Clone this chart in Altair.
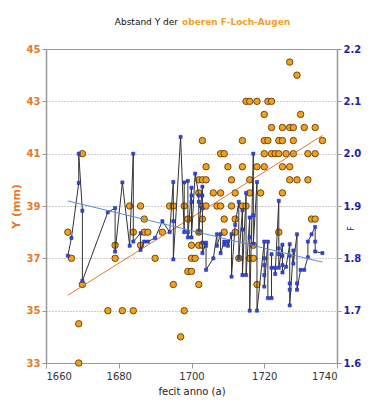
import altair as alt
import pandas as pd

# Orange series: Y (mm) of upper F-hole eyes
orange_years = [1666,1667,1669,1669,1670,1670,1677,1679,1679,1681,1683,1684,1684,1686,1686,1687,1687,1688,1690,1692,
                1694,1695,1695,1697,1698,1698,1699,1699,1700,1700,1700,1701,1702,1702,1702,1702,1702,1703,1703,1703,
                1703,1703,1704,1704,1704,1706,1707,1708,1708,1708,1709,1709,1709,1710,1711,1711,1712,1712,1712,1713,
                1714,1714,1714,1715,1715,1716,1716,1716,1716,1717,1717,1718,1718,1718,1719,1720,1720,1720,1720,1721,
                1721,1722,1722,1722,1723,1724,1724,1724,1725,1725,1725,1725,1726,1727,1727,1727,1727,1728,1728,1728,
                1729,1729,1730,1731,1732,1732,1733,1734,1734,1734,1736]
orange_y = [38,37,34.5,33,41,36,35,37.5,37,35,39,38,35,39,37.5,38.5,38,38,37,38,
            39,39,36,34,39,35,38.5,36.5,37.5,37,36.5,37,38,37.5,36,40,39.5,41.5,40,39,
            38.5,37.5,40.5,40,39,39.5,39,41,39.5,39,41,38.5,38,40.5,40,39,39.5,38.5,38,37,
            41.5,40.5,39,43,39,43,40,39.5,37,37.5,37,43,40.5,36,39.5,42.5,41.5,41,40.5,43,
            41.5,43,42,41,41,41.5,41,38,42,41.5,40.5,39.5,41,44.5,42,40.5,40,42,41.5,41,
            44,40,42.5,42,41,40,38.5,42,41,38.5,41.5]

# Blue series: F
blue_years = [1666,1667,1669,1669,1670,1670,1677,1679,1679,1681,1683,1684,1684,1686,1686,1687,1688,1690,1692,1694,
              1695,1695,1695,1697,1698,1698,1699,1699,1699,1700,1700,1700,1700,1701,1702,1702,1702,1703,1703,1703,
              1703,1703,1704,1704,1704,1706,1707,1707,1708,1708,1709,1709,1710,1710,1711,1711,1712,1713,1713,1714,
              1714,1714,1715,1715,1716,1716,1716,1717,1717,1717,1718,1718,1720,1720,1720,1720,1720,1721,1721,1722,
              1722,1722,1723,1723,1724,1724,1724,1724,1725,1725,1725,1725,1726,1727,1727,1727,1727,1727,1728,1728,
              1729,1729,1729,1730,1731,1732,1732,1733,1734,1734,1734,1736]
blue_f = [1.805,1.839,1.944,2.000,1.891,1.757,1.888,1.896,1.813,1.945,1.824,2.000,1.832,1.848,1.816,1.832,1.832,1.839,1.871,1.850,
          1.946,1.871,1.798,2.032,1.850,1.945,1.948,1.850,1.840,1.935,1.920,1.908,1.840,1.962,1.920,1.908,1.850,1.937,1.920,1.896,
          1.830,1.810,1.830,1.824,1.778,1.800,1.846,1.824,1.846,1.810,1.832,1.826,1.832,1.824,1.846,1.765,1.864,1.908,1.800,1.892,
          1.855,1.768,1.925,1.768,1.878,1.840,1.700,2.000,1.882,1.827,1.946,1.700,1.832,1.800,1.787,1.768,1.746,1.832,1.724,1.724,
          1.808,1.782,1.782,1.770,1.910,1.819,1.808,1.782,1.826,1.805,1.787,1.773,1.784,1.827,1.805,1.752,1.740,1.710,1.815,1.790,
          1.846,1.752,1.740,1.778,1.778,1.802,1.832,1.846,1.860,1.832,1.813,1.810]

x_ticks = [1660, 1680, 1700, 1720, 1740]
y_ticks = [33, 35, 37, 39, 41, 43, 45]
f_ticks = [1.6, 1.7, 1.8, 1.9, 2.0, 2.1, 2.2]

FONT = "DejaVu Sans"
ORANGE_TXT = "#E8772A"
BLUE_TXT = "#1E1EA8"

odf = pd.DataFrame({"year": orange_years, "Y": orange_y})
bdf = pd.DataFrame({"year": blue_years, "F": blue_f, "idx": list(range(len(blue_years)))})

xs = alt.Scale(domain=[1660, 1740], nice=False, zero=False)
ys = alt.Scale(domain=[33, 45], nice=False, zero=False)
fs = alt.Scale(domain=[1.6, 2.2], nice=False, zero=False)

xaxis = alt.Axis(values=x_ticks, format="d", title="fecit anno (a)", grid=False,
                 labelColor="#333", labelFontSize=10, titleFontSize=10, titleFontWeight="normal",
                 titleColor="#222", tickColor="#999", domainColor="#999", labelPadding=3, titlePadding=5)

yaxis = alt.Axis(values=y_ticks, title="Y (mm)", orient="left",
                 labelColor=ORANGE_TXT, labelFontWeight="bold", labelFontSize=10,
                 titleColor=ORANGE_TXT, titleFontSize=11, titleFontWeight="bold",
                 grid=True, gridColor="#999", gridDash=[1, 2], gridWidth=1,
                 domainColor="#999", domainWidth=1.5, tickColor="#999",
                 tickSize=4, titlePadding=5)

faxis = alt.Axis(values=f_ticks, format=".1f", title="F", orient="right",
                 labelColor=BLUE_TXT, labelFontWeight="bold", labelFontSize=10,
                 titleColor=BLUE_TXT, titleFontSize=8, titleFontWeight="normal",
                 titleAngle=270, titleX=18, titleY=179, grid=False,
                 domainColor="#999", domainWidth=1.5, tickColor="#999", tickSize=4)

o_pts = alt.Chart(odf).mark_point(shape="circle", filled=True, size=42, fill="#F5A01C",
                                   stroke="#4A3000", strokeWidth=0.8, opacity=1).encode(
    x=alt.X("year:Q", scale=xs, axis=xaxis),
    y=alt.Y("Y:Q", scale=ys, axis=yaxis),
)
o_reg = alt.Chart(odf).transform_regression("year", "Y").mark_line(color="#E0782E", strokeWidth=1).encode(
    x=alt.X("year:Q", scale=xs, axis=xaxis),
    y=alt.Y("Y:Q", scale=ys, axis=yaxis),
)
orange = alt.layer(o_pts, o_reg)

b_line = alt.Chart(bdf).mark_line(color="#333333", strokeWidth=1).encode(
    x=alt.X("year:Q", scale=xs, axis=xaxis),
    y=alt.Y("F:Q", scale=fs, axis=faxis),
    order=alt.Order("idx:Q"),
)
b_pts = alt.Chart(bdf).mark_point(shape="square", filled=True, size=10, fill="#3248E6",
                                   stroke="#1A2590", strokeWidth=0.5, opacity=1).encode(
    x=alt.X("year:Q", scale=xs, axis=xaxis),
    y=alt.Y("F:Q", scale=fs, axis=faxis),
)
b_reg = alt.Chart(bdf).transform_regression("year", "F").mark_line(color="#5B8BD9", strokeWidth=1).encode(
    x=alt.X("year:Q", scale=xs, axis=xaxis),
    y=alt.Y("F:Q", scale=fs, axis=faxis),
)
blue = alt.layer(b_line, b_pts, b_reg)

tdf = pd.DataFrame({"a": ["Abstand Y der"], "b": ["oberen F-Loch-Augen"]})
t1 = alt.Chart(tdf).mark_text(align="right", baseline="middle", font=FONT, fontSize=9, color="#111").encode(
    text="a:N", x=alt.value(132), y=alt.value(-27))
t2 = alt.Chart(tdf).mark_text(align="left", baseline="middle", font=FONT, fontSize=9, fontWeight="bold",
                              color="#F0A028").encode(text="b:N", x=alt.value(136), y=alt.value(-27))

chart = alt.layer(orange, blue, t1, t2).resolve_scale(y="independent").properties(
    width=291, height=314,
    autosize=alt.AutoSizeParams(type="none"),
    padding={"left": 38, "top": 41, "right": 45, "bottom": 37},
).configure(font=FONT).configure_view(stroke="#999", strokeWidth=1)

chart.save("out.html", embed_options={"renderer": "svg", "actions": False})
